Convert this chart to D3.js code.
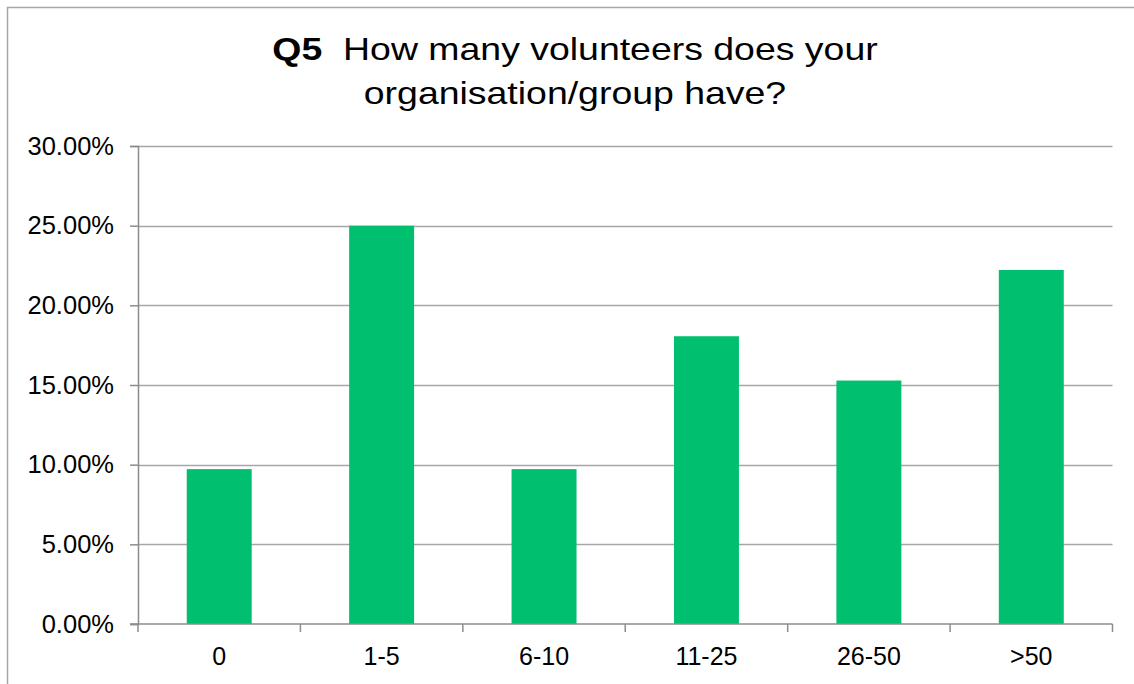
<!DOCTYPE html>
<html>
<head>
<meta charset="utf-8">
<script src="https://cdn.jsdelivr.net/npm/d3@7"></script>
<style>
  html, body { margin: 0; padding: 0; background: #fff; overflow: hidden; }
  svg { display: block; font-family: "Liberation Sans", Arial, sans-serif; }
</style>
</head>
<body>
<svg id="chart" width="1134" height="684"></svg>
<script>
// Survey responses: share of organisations by number of volunteers
const categories = ["0", "1-5", "6-10", "11-25", "26-50", ">50"];
const shares = [0.0972, 0.25, 0.0972, 0.1806, 0.1528, 0.2222];
const yTicks = [0, 0.05, 0.10, 0.15, 0.20, 0.25, 0.30];

const W = 1134, H = 684;
const plot = { left: 138, right: 1112.5, top: 146, bottom: 624 };

const svg = d3.select("#chart");

// outer chart frame (right and bottom edges fall outside the page)
svg.append("rect")
  .attr("x", 7.5).attr("y", 7.5)
  .attr("width", W + 20).attr("height", H + 20)
  .attr("fill", "none").attr("stroke", "#a6a6a6").attr("stroke-width", 1.5);

const x = d3.scaleBand().domain(categories).range([plot.left, plot.right]).paddingInner(0.6).paddingOuter(0.3);
const xb = d3.scaleBand().domain(categories).range([plot.left, plot.right]).padding(0);
const y = d3.scaleLinear().domain([0, 0.30]).range([plot.bottom, plot.top]);

// horizontal gridlines
svg.append("g")
  .selectAll("line")
  .data(yTicks.filter(t => t > 0))
  .join("line")
  .attr("x1", plot.left).attr("x2", plot.right)
  .attr("y1", d => Math.round(y(d)) + 0.5).attr("y2", d => Math.round(y(d)) + 0.5)
  .attr("stroke", "#a6a6a6").attr("stroke-width", 1.5);

// bars
svg.append("g")
  .selectAll("rect")
  .data(categories.map((c, i) => ({ c, v: shares[i] })))
  .join("rect")
  .attr("x", d => x(d.c))
  .attr("width", x.bandwidth())
  .attr("y", d => y(d.v))
  .attr("height", d => y(0) - y(d.v))
  .attr("fill", "#00bf6f");

// y axis
const yAxis = svg.append("g")
  .attr("transform", `translate(${plot.left},0)`)
  .call(d3.axisLeft(y).tickValues(yTicks).tickFormat(d3.format(".2%")).tickSize(8).tickPadding(16));
yAxis.select(".domain").attr("stroke", "#8c8c8c").attr("stroke-width", 1.5);
yAxis.selectAll(".tick line").attr("stroke", "#8c8c8c").attr("stroke-width", 1.5);
yAxis.selectAll(".tick text").attr("fill", "#000").style("font-size", "25.5px")
  .style("font-family", "'Liberation Sans', Arial, sans-serif");

// x axis with ticks between categories
const xAxisG = svg.append("g").attr("transform", `translate(0,${plot.bottom})`);
xAxisG.append("line")
  .attr("x1", plot.left - 8).attr("x2", plot.right)
  .attr("stroke", "#8c8c8c").attr("stroke-width", 1.5);
const boundaries = categories.map(c => xb(c)).concat([plot.right]);
xAxisG.selectAll("line.sep")
  .data(boundaries)
  .join("line").attr("class", "sep")
  .attr("x1", d => d).attr("x2", d => d)
  .attr("y1", 0).attr("y2", 8)
  .attr("stroke", "#8c8c8c").attr("stroke-width", 1.5);
xAxisG.selectAll("text")
  .data(categories)
  .join("text")
  .attr("x", d => xb(d) + xb.bandwidth() / 2)
  .attr("y", 41)
  .attr("text-anchor", "middle")
  .style("font-size", "25px")
  .text(d => d);

// title, slightly widened
const title = svg.append("text")
  .attr("text-anchor", "middle")
  .attr("transform", "translate(575,0) scale(1.17,1)")
  .style("font-size", "32px");
const l1 = title.append("tspan").attr("x", 0).attr("y", 60);
l1.append("tspan").attr("font-weight", "bold").text("Q5");
l1.append("tspan").text("\u00a0 How many volunteers does your");
title.append("tspan").attr("x", 0).attr("y", 104).text("organisation/group have?");
</script>
</body>
</html>
